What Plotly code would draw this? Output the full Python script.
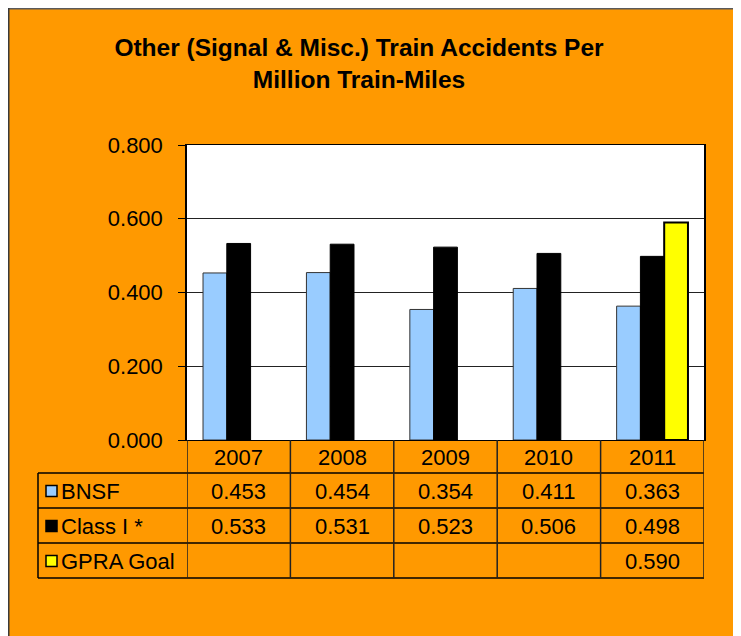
import plotly.graph_objects as go

years = ["2007", "2008", "2009", "2010", "2011"]
bnsf = [0.453, 0.454, 0.354, 0.411, 0.363]
class1 = [0.533, 0.531, 0.523, 0.506, 0.498]
gpra = [None, None, None, None, 0.590]
series_names = ["BNSF", "Class I *", "GPRA Goal"]
y_ticks = [0.0, 0.2, 0.4, 0.6, 0.8]

# page has an 8px body margin, so the figure sits at (8, 8)
OFF = 8
W, H = 741, 636
L, R, T, B = 187 - OFF, 704 - OFF, 145 - OFF, 440 - OFF
PW, PH = R - L, B - T

def px_x(p):  # p in reference-image pixels
    return (p - OFF - L) / PW

def px_y(p):
    return (B - (p - OFF)) / PH

FONT = "Arial, Liberation Sans, sans-serif"
ORANGE = "#FF9900"
colors = ["#99CCFF", "#000000", "#FFFF00"]
line_colors = ["#333333", "#000000", "#000000"]
line_widths = [1, 1, 2]

fig = go.Figure()
for name, vals, c, lc, lw in zip(series_names, [bnsf, class1, gpra], colors, line_colors, line_widths):
    fig.add_trace(go.Bar(x=years, y=vals, name=name, marker=dict(color=c, line=dict(color=lc, width=lw)),
                         showlegend=False, hoverinfo="skip"))

shapes = []
annotations = []
row_lines = [473, 508, 543, 578]
for yl in row_lines:
    shapes.append(dict(type="line", xref="paper", yref="paper", x0=px_x(38), x1=px_x(704), y0=px_y(yl), y1=px_y(yl),
                       line=dict(color="black", width=1.5)))
for k in range(len(years) + 1):
    shapes.append(dict(type="line", xref="x", yref="paper", x0=k - 0.5, x1=k - 0.5, y0=0, y1=px_y(578),
                       line=dict(color="#222222", width=1.5)))
shapes.append(dict(type="line", xref="paper", yref="paper", x0=px_x(38), x1=px_x(38), y0=px_y(473), y1=px_y(578),
                   line=dict(color="black", width=1.5)))
# dark frame edges of the chart area
shapes.append(dict(type="line", xref="paper", yref="paper", x0=px_x(OFF), x1=px_x(760), y0=px_y(OFF + 0.5), y1=px_y(OFF + 0.5),
                   line=dict(color="#5a5a5a", width=2)))
shapes.append(dict(type="line", xref="paper", yref="paper", x0=px_x(OFF + 0.5), x1=px_x(OFF + 0.5), y0=px_y(OFF), y1=px_y(660),
                   line=dict(color="#3a3a3a", width=2)))

TF = dict(family=FONT, size=22, color="black")
for i, yr in enumerate(years):
    annotations.append(dict(x=i, xref="x", y=px_y(457), yref="paper", text=yr, showarrow=False,
                            font=TF, xanchor="center", yanchor="middle"))
row_centers = [491, 526, 561]
for name, vals, c, cy in zip(series_names, [bnsf, class1, gpra], colors, row_centers):
    shapes.append(dict(type="rect", xref="paper", yref="paper", x0=px_x(46), x1=px_x(57), y0=px_y(cy - 5.5), y1=px_y(cy + 5.5),
                       fillcolor=c, line=dict(color="black", width=1.5)))
    annotations.append(dict(x=px_x(59), xref="paper", y=px_y(cy), yref="paper", text=name, showarrow=False,
                            font=TF, xanchor="left", yanchor="middle"))
    for i, v in enumerate(vals):
        if v is None:
            continue
        annotations.append(dict(x=i, xref="x", y=px_y(cy), yref="paper", text=f"{v:.3f}", showarrow=False,
                                font=TF, xanchor="center", yanchor="middle"))

fig.update_layout(
    width=W, height=H,
    margin=dict(l=L, r=W - R, t=T, b=H - B, pad=0),
    paper_bgcolor=ORANGE, plot_bgcolor="white",
    barmode="group", bargap=0.31, bargroupgap=0,
    title=dict(text="Other (Signal & Misc.) Train Accidents Per<br>Million Train-Miles",
               font=dict(family=FONT, size=24.5, color="black", weight="bold"),
               xref="container", yref="container", x=(359 - OFF) / W, xanchor="center", y=1 - 48 / H, yanchor="top"),
    shapes=shapes, annotations=annotations,
    font=dict(family=FONT, color="black"),
)
fig.update_xaxes(type="category", range=[-0.5, 4.5], showticklabels=False, ticks="", showgrid=False,
                 showline=True, linecolor="black", linewidth=1, mirror=True, zeroline=False)
fig.update_yaxes(range=[0, 0.8], tickvals=y_ticks, ticktext=[f"{v:.3f}" for v in y_ticks],
                 ticks="outside", ticklen=7, tickcolor="black", ticklabelstandoff=11,
                 tickfont=dict(family=FONT, size=22, color="black"),
                 showgrid=True, gridcolor="#222222", gridwidth=1,
                 showline=True, linecolor="black", linewidth=1.5, mirror=True, zeroline=False)

fig.write_html("out.html")
